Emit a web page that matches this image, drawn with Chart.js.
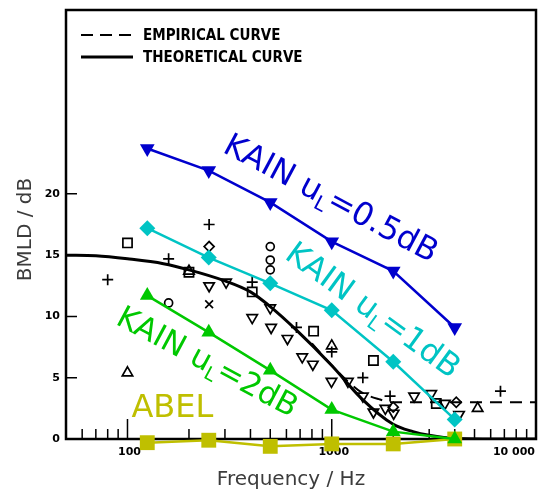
<!DOCTYPE html>
<html>
<head>
<meta charset="utf-8">
<script src="https://cdn.jsdelivr.net/npm/chart.js@4.4.1/dist/chart.umd.min.js"></script>
<style>
  html, body { margin: 0; padding: 0; background: #fff; }
  #wrap { width: 539px; height: 490px; }
</style>
</head>
<body>
<div id="wrap"><canvas id="bmldChart" width="539" height="490"></canvas></div>
<script>
// model predictions (Hz / dB)
const freqs = [125, 250, 500, 1000, 2000, 4000];
const kainHalfDb = [23.7, 21.9, 19.3, 16.1, 13.7, 9.1];
const kainOneDb = [17.2, 14.8, 12.7, 10.5, 6.3, 1.6];
const kainTwoDb = [11.7, 8.7, 5.6, 2.4, 0.6, 0.0];
const abel = [-0.3, -0.1, -0.6, -0.4, -0.4, 0.0];

// curves from the original figure
const theoFreqs = [50, 70, 100, 150, 200, 300, 400, 500, 670, 1000, 1400, 2000, 2500, 3000, 4000, 10000];
const theoValues = [15.0, 14.95, 14.7, 14.3, 13.8, 12.9, 12.0, 10.8, 8.9, 6.0, 3.3, 1.2, 0.6, 0.3, 0.05, 0];
const empFreqs = [800, 1000, 1200, 1400, 1700, 2000, 10000];
const empValues = [7.8, 6.0, 4.7, 3.8, 3.25, 3.0, 3.0];

// measured points, [Hz, dB]
const plusPts = [[80, 13.0], [159, 14.7], [251, 17.5], [408, 12.8], [672, 9.1], [1000, 7.1], [1420, 5.0], [1930, 3.5], [6700, 3.9]];
const squarePts = [[100, 16.0], [200, 13.6], [408, 12.0], [815, 8.8], [1600, 6.4], [3250, 2.9]];
const circlePts = [[159, 11.1], [500, 15.7], [500, 14.6], [500, 13.8]];
const xPts = [[251, 11.0]];
const diamondPts = [[251, 15.7], [2000, 2.6], [4070, 3.0]];
const upTriPts = [[100, 5.4], [200, 13.7], [1000, 7.6], [5180, 2.5]];
const downTriPts = [[251, 12.5], [304, 12.8], [408, 9.9], [500, 10.7], [505, 9.1], [607, 8.2], [717, 6.7], [808, 6.1], [997, 4.7],
  [1200, 4.7], [1420, 3.5], [1600, 2.2], [1830, 2.5], [2010, 2.1], [2530, 3.5], [3070, 3.7], [3580, 2.9], [4200, 2.0]];

// axis ticks
const yTickValues = [0, 5, 10, 15, 20];
const yTickLabels = ['0', '5', '10', '15', '20'];
const xMajorTicks = [100, 1000];
const xMinorTicks = [60, 70, 80, 90, 200, 300, 400, 500, 600, 700, 800, 900, 2000, 3000, 4000, 5000, 6000, 7000, 8000, 9000];
const xTickValues = [100, 1000, 10000];
const xTickLabels = ['100', '1000', '10 000'];

const BLUE = '#0000cd';
const CYAN = '#00c4c4';
const GREEN = '#00c800';
const OLIVE = '#bfbf00';

function pts(xs, ys) {
    return xs.map((f, i) => ({ x: f, y: ys[i] }));
}
function pairs(list) {
    return list.map(p => ({ x: p[0], y: p[1] }));
}

function model(data, color, style, rot, radius) {
    return {
        data: pts(freqs, data),
        borderColor: color,
        backgroundColor: color,
        borderWidth: 2.5,
        pointStyle: style,
        rotation: rot,
        pointRadius: radius,
        pointBorderWidth: 0,
        clip: false,
        order: 1
    };
}

function marks(list, style, radius, rot) {
    return {
        data: pairs(list),
        showLine: false,
        pointStyle: style,
        rotation: rot || 0,
        pointRadius: radius,
        pointBorderColor: '#000',
        pointBackgroundColor: 'rgba(0,0,0,0)',
        pointBorderWidth: 1.7,
        order: 5
    };
}

function drawLabel(ctx, cx, cy, angle, parts, color, size) {
    const sub = Math.round(size * 0.62);
    ctx.save();
    ctx.translate(cx, cy);
    ctx.rotate(angle * Math.PI / 180);
    ctx.fillStyle = color;
    ctx.textAlign = 'left';
    ctx.textBaseline = 'alphabetic';
    let total = 0;
    parts.forEach(p => {
        ctx.font = (p[1] ? sub : size) + 'px "DejaVu Sans"';
        total += ctx.measureText(p[0]).width;
    });
    let px = -total / 2;
    const base = size * 0.36;
    parts.forEach(p => {
        ctx.font = (p[1] ? sub : size) + 'px "DejaVu Sans"';
        ctx.fillText(p[0], px, base + (p[1] ? size * 0.2 : 0));
        px += ctx.measureText(p[0]).width;
    });
    ctx.restore();
}

const frame = {
    id: 'frame',
    beforeDatasetsDraw(chart) {
        const { ctx, chartArea: a, scales: { x, y } } = chart;
        ctx.save();
        ctx.strokeStyle = '#000';
        ctx.lineWidth = 2.5;
        ctx.strokeRect(a.left, a.top, a.right - a.left, a.bottom - a.top);

        ctx.lineWidth = 1.5;
        ctx.beginPath();
        yTickValues.forEach(v => {
            const py = y.getPixelForValue(v);
            ctx.moveTo(a.left, py);
            ctx.lineTo(a.left + 11, py);
        });
        xMinorTicks.forEach(f => {
            const px = x.getPixelForValue(f);
            ctx.moveTo(px, a.bottom);
            ctx.lineTo(px, a.bottom - 10);
        });
        xMajorTicks.forEach(f => {
            const px = x.getPixelForValue(f);
            ctx.moveTo(px, a.bottom);
            ctx.lineTo(px, a.bottom - 20);
        });
        ctx.stroke();

        ctx.fillStyle = '#000';
        ctx.font = 'bold 11px "DejaVu Sans"';
        ctx.textAlign = 'right';
        ctx.textBaseline = 'middle';
        yTickValues.forEach((v, i) => {
            ctx.fillText(yTickLabels[i], a.left - 6, y.getPixelForValue(v));
        });
        xTickValues.forEach((f, i) => {
            const px = x.getPixelForValue(f);
            if (f >= 10000) {
                ctx.textAlign = 'right';
                ctx.fillText(xTickLabels[i], px - 1, a.bottom + 13);
            } else {
                ctx.textAlign = 'center';
                ctx.fillText(xTickLabels[i], px + 2, a.bottom + 13);
            }
        });
        ctx.restore();
    },
    afterDatasetsDraw(chart) {
        const { ctx, chartArea: a, scales: { x, y } } = chart;
        ctx.save();
        // legend of the original figure
        ctx.strokeStyle = '#000';
        ctx.lineWidth = 2;
        ctx.setLineDash([12, 7]);
        ctx.beginPath();
        ctx.moveTo(a.left + 15, a.top + 25);
        ctx.lineTo(a.left + 67, a.top + 25);
        ctx.stroke();
        ctx.setLineDash([]);
        ctx.lineWidth = 3;
        ctx.beginPath();
        ctx.moveTo(a.left + 15, a.top + 47);
        ctx.lineTo(a.left + 67, a.top + 47);
        ctx.stroke();
        ctx.fillStyle = '#000';
        ctx.font = 'bold 15px "DejaVu Sans Condensed"';
        ctx.textAlign = 'left';
        ctx.textBaseline = 'middle';
        ctx.fillText('EMPIRICAL CURVE', a.left + 77, a.top + 26);
        ctx.fillText('THEORETICAL CURVE', a.left + 77, a.top + 48);

        drawLabel(ctx, x.getPixelForValue(1000), y.getPixelForValue(19.75), 28,
            [['KAIN u', 0], ['L', 1], ['=0.5dB', 0]], BLUE, 32);
        drawLabel(ctx, x.getPixelForValue(1608), y.getPixelForValue(10.6), 36,
            [['KAIN u', 0], ['L', 1], ['=1dB', 0]], CYAN, 32);
        drawLabel(ctx, x.getPixelForValue(248), y.getPixelForValue(6.4), 28,
            [['KAIN u', 0], ['L', 1], ['=2dB', 0]], GREEN, 31);

        ctx.fillStyle = OLIVE;
        ctx.font = '32px "DejaVu Sans"';
        ctx.textAlign = 'left';
        ctx.textBaseline = 'alphabetic';
        ctx.fillText('ABEL', x.getPixelForValue(104.6), y.getPixelForValue(1.8));
        ctx.restore();
    },
    afterDraw(chart) {
        const { ctx, chartArea: a } = chart;
        ctx.save();
        ctx.fillStyle = '#3c3c3c';
        ctx.font = '20px "DejaVu Sans"';
        ctx.textAlign = 'center';
        ctx.textBaseline = 'alphabetic';
        ctx.fillText('Frequency / Hz', (a.left + a.right) / 2 - 10, a.bottom + 46);
        ctx.translate(31, (a.top + a.bottom) / 2 + 5);
        ctx.rotate(-Math.PI / 2);
        ctx.fillText('BMLD / dB', 0, 0);
        ctx.restore();
    }
};

new Chart(document.getElementById('bmldChart'), {
    type: 'line',
    data: {
        datasets: [
            model(kainHalfDb, BLUE, 'triangle', 180, 8.5),
            model(kainOneDb, CYAN, 'rectRot', 0, 8),
            model(kainTwoDb, GREEN, 'triangle', 0, 8.5),
            model(abel, OLIVE, 'rect', 0, 10.5),
            {
                data: pts(theoFreqs, theoValues),
                borderColor: '#000',
                borderWidth: 3,
                pointRadius: 0,
                cubicInterpolationMode: 'monotone',
                order: 4
            },
            {
                data: pts(empFreqs, empValues),
                borderColor: '#000',
                borderWidth: 2,
                borderDash: [12, 8],
                pointRadius: 0,
                cubicInterpolationMode: 'monotone',
                order: 4
            },
            marks(plusPts, 'cross', 5.5),
            marks(squarePts, 'rect', 6.5),
            marks(circlePts, 'circle', 4),
            marks(xPts, 'crossRot', 5.5),
            marks(diamondPts, 'rectRot', 5),
            marks(upTriPts, 'triangle', 6),
            marks(downTriPts, 'triangle', 6, 180)
        ]
    },
    options: {
        responsive: false,
        animation: false,
        devicePixelRatio: 1,
        layout: { autoPadding: false, padding: { left: 66, right: 3, top: 10, bottom: 51 } },
        plugins: { legend: { display: false }, tooltip: { enabled: false } },
        scales: {
            x: { type: 'logarithmic', min: 50, max: 10000, display: false },
            y: { type: 'linear', min: 0, max: 35, display: false }
        }
    },
    plugins: [frame]
});
</script>
</body>
</html>
